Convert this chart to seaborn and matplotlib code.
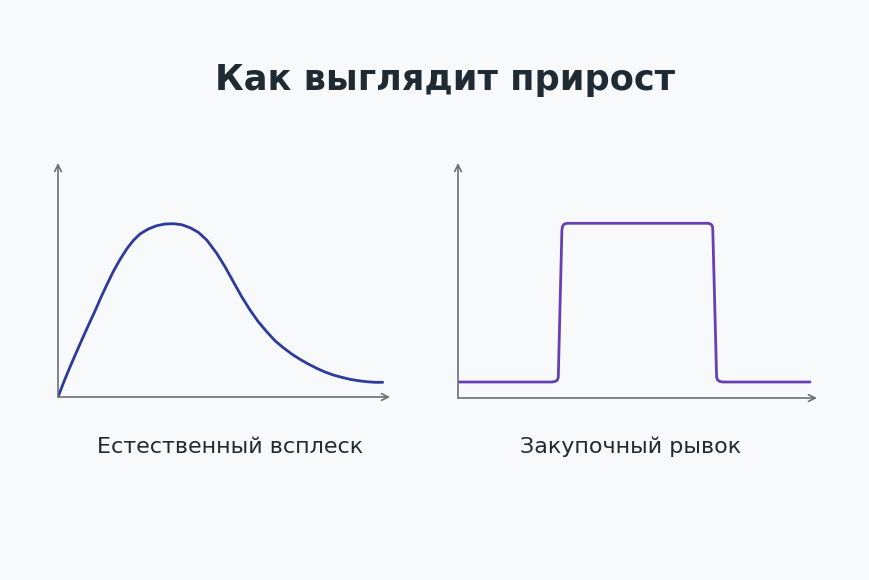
import pandas as pd
import seaborn as sns
import matplotlib.pyplot as plt

# естественный всплеск (кривая)
natural_x = [0, 7, 13.7, 22, 30.3, 37, 42, 48.7, 55.3, 62, 68.7, 75.3, 82, 90.3,
             98.7, 107, 115.3, 123.7, 132, 140.3, 148.7, 158.7, 167, 175.3, 183.7,
             192, 200.3, 208.7, 217, 225.3, 233.7, 242, 250.3, 258.7, 267, 275.3,
             283.7, 292, 300.3, 308.7, 317, 324.7]
natural_y = [0, 18, 34, 53, 71.5, 86, 97.5, 112, 125.5, 137.5, 148, 156.5, 163, 168,
             171.3, 173, 173.3, 172.3, 169.3, 164.7, 157, 143.7, 130.3, 115.3, 100.3,
             87, 75.3, 65.3, 56.3, 49.3, 43, 37.7, 33, 28.7, 25, 22, 19.7, 17.7,
             16.3, 15.3, 14.7, 14.7]

# закупочный рывок (ступенька)
bought_x = [0, 94, 97.5, 99.5, 100.3, 103.9, 104.5, 106, 109, 250, 253, 254.5,
            254.8, 258.6, 259.5, 261.5, 265, 352]
bought_y = [16, 16, 16.6, 18.2, 21, 168, 171.5, 173.8, 174.7, 174.7, 173.8, 171.5,
            168, 21, 18.2, 16.6, 16, 16]

title = 'Как выглядит прирост'
labels = ['Естественный всплеск', 'Закупочный рывок']

sns.set_theme(style='white')
plt.rcParams['font.family'] = ['DejaVu Sans']

bg = '#f8f9fb'
fig = plt.figure(figsize=(8.7, 5.8), dpi=100, facecolor=bg)

ax1 = fig.add_axes([58 / 870, 1 - 397 / 580, 332 / 870, 234 / 580])
ax2 = fig.add_axes([458 / 870, 1 - 398 / 580, 359 / 870, 235 / 580])

df1 = pd.DataFrame({'x': natural_x, 'y': natural_y})
df2 = pd.DataFrame({'x': bought_x, 'y': bought_y})

sns.lineplot(data=df1, x='x', y='y', ax=ax1, color='#2b3a9c', linewidth=2,
             sort=False, solid_joinstyle='round', solid_capstyle='round')
sns.lineplot(data=df2, x='x', y='y', ax=ax2, color='#6640b4', linewidth=2,
             sort=False, solid_joinstyle='round', solid_capstyle='round')

for ax, (w, h) in zip((ax1, ax2), [(332, 234), (359, 235)]):
    ax.set_xlim(0, w)
    ax.set_ylim(0, h)
    ax.set_facecolor('none')
    for s in ax.spines.values():
        s.set_visible(False)
    ax.set_xticks([])
    ax.set_yticks([])
    ax.set_xlabel('')
    ax.set_ylabel('')
    arrow = dict(arrowstyle='->', color='#6b6f75', lw=1.2, shrinkA=0, shrinkB=0,
                 mutation_scale=12)
    ax.annotate('', xy=(w, 0), xytext=(0, 0), arrowprops=arrow, annotation_clip=False)
    ax.annotate('', xy=(0, h), xytext=(0, 0), arrowprops=arrow, annotation_clip=False)

fig.text(445 / 870, 1 - 90 / 580, title, ha='center', va='baseline', fontsize=25.3,
         fontweight='bold', color='#1f2a33')
fig.text(230 / 870, 1 - 453 / 580, labels[0], ha='center', va='baseline',
         fontsize=16, color='#1f2a33')
fig.text(631 / 870, 1 - 453 / 580, labels[1], ha='center', va='baseline',
         fontsize=16, color='#1f2a33')

fig.savefig('out.png', dpi=100, facecolor=bg)
